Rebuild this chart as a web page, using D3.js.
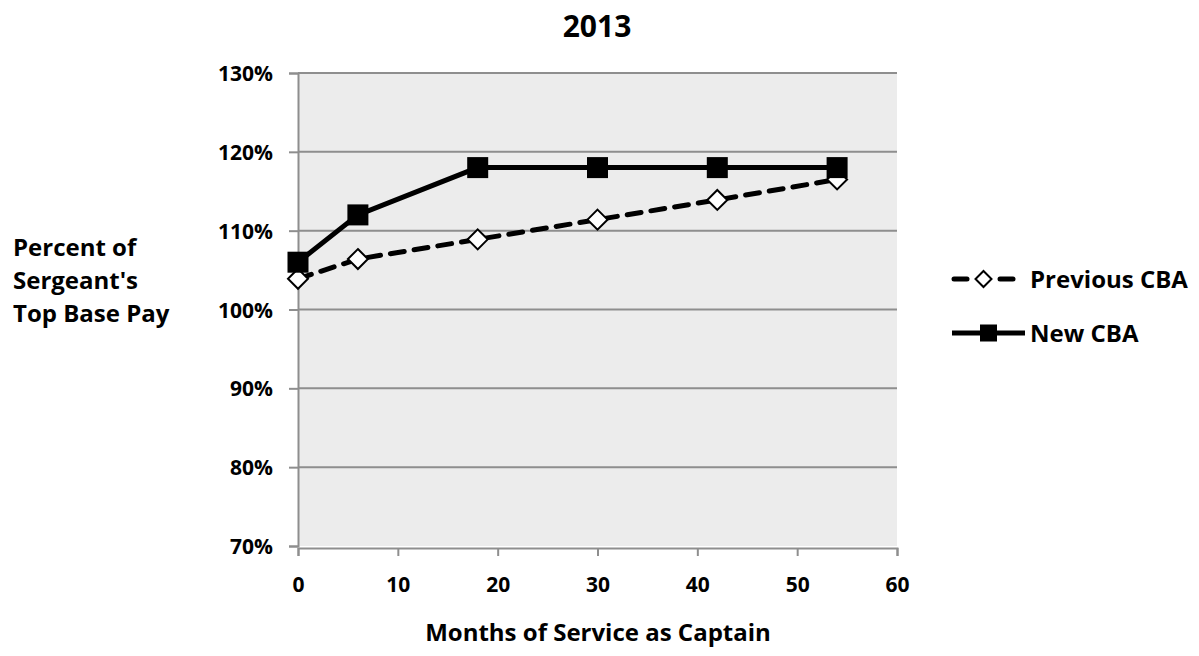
<!DOCTYPE html>
<html>
<head>
<meta charset="utf-8">
<script src="https://cdn.jsdelivr.net/npm/d3@7"></script>
<style>
  html, body { margin: 0; padding: 0; background: #fff; }
  svg text { font-family: "Open Sans", "Noto Sans", sans-serif; font-weight: bold; fill: #000; }
</style>
</head>
<body>
<svg id="chart" width="1199" height="656"></svg>
<script>
// Months of service at each pay step
const months = [0, 6, 18, 30, 42, 54];
// Captain pay as a percent of the sergeant's top base pay
const previousCBA = [103.9, 106.4, 108.9, 111.4, 113.9, 116.5];
const newCBA = [106, 112, 118, 118, 118, 118];
const xTicks = [0, 10, 20, 30, 40, 50, 60];
const yTicks = [70, 80, 90, 100, 110, 120, 130];
const seriesNames = ["Previous CBA", "New CBA"];

const svg = d3.select("#chart");
const plot = { left: 298, right: 897, top: 73, bottom: 546 };

const x = d3.scaleLinear().domain([0, 60]).range([plot.left, plot.right]);
const y = d3.scaleLinear().domain([70, 130]).range([plot.bottom, plot.top]);

// plot background
svg.append("rect")
  .attr("x", plot.left).attr("y", plot.top)
  .attr("width", plot.right - plot.left).attr("height", plot.bottom - plot.top)
  .attr("fill", "#ececec");

// horizontal gridlines
svg.append("g")
  .selectAll("line")
  .data(yTicks.filter(t => t > 70))
  .join("line")
  .attr("x1", plot.left).attr("x2", plot.right)
  .attr("y1", d => y(d)).attr("y2", d => y(d))
  .attr("stroke", "#8e8e8e").attr("stroke-width", 2);

// y axis
const yAxis = svg.append("g")
  .attr("transform", `translate(${plot.left},0)`)
  .call(d3.axisLeft(y).tickValues(yTicks).tickFormat(d => d + "%").tickSize(9).tickPadding(16));
yAxis.select(".domain").attr("stroke", "#8e8e8e").attr("stroke-width", 2);
yAxis.selectAll(".tick line").attr("stroke", "#8e8e8e").attr("stroke-width", 2);
yAxis.selectAll("text").style("font-size", "21px").attr("dy", "0.36em");

// x axis
const xAxis = svg.append("g")
  .attr("transform", `translate(0,${plot.bottom + 2})`)
  .call(d3.axisBottom(x).tickValues(xTicks).tickSize(8));
xAxis.select(".domain").attr("stroke", "#8e8e8e").attr("stroke-width", 2);
xAxis.selectAll(".tick line").attr("stroke", "#8e8e8e").attr("stroke-width", 2);
xAxis.selectAll("text").style("font-size", "21px").attr("y", 44).attr("dy", 0);

const line = d3.line().x(d => x(d[0])).y(d => y(d[1]));
const prevPts = months.map((m, i) => [m, previousCBA[i]]);
const newPts = months.map((m, i) => [m, newCBA[i]]);

const diamond = s => `M0,${-s}L${s},0L0,${s}L${-s},0Z`;

// Previous CBA: dashed line with hollow diamonds
svg.append("path").datum(prevPts)
  .attr("d", line).attr("fill", "none")
  .attr("stroke", "#000").attr("stroke-width", 5)
  .attr("stroke-dasharray", "14,10").attr("stroke-linecap", "round");
svg.append("g").selectAll("path")
  .data(prevPts).join("path")
  .attr("transform", d => `translate(${x(d[0])},${y(d[1])})`)
  .attr("d", diamond(10))
  .attr("fill", "#fff").attr("stroke", "#000").attr("stroke-width", 2);

// New CBA: solid line with filled squares
svg.append("path").datum(newPts)
  .attr("d", line).attr("fill", "none")
  .attr("stroke", "#000").attr("stroke-width", 5);
svg.append("g").selectAll("rect")
  .data(newPts).join("rect")
  .attr("x", d => x(d[0]) - 10.5).attr("y", d => y(d[1]) - 10.5)
  .attr("width", 21).attr("height", 21).attr("fill", "#000");

// title
svg.append("text").attr("x", 597).attr("y", 37)
  .attr("text-anchor", "middle").style("font-size", "30px").text("2013");

// x axis title
svg.append("text").attr("x", 598).attr("y", 641)
  .attr("text-anchor", "middle").style("font-size", "24px").text("Months of Service as Captain");

// y axis title
const yTitle = svg.append("text").style("font-size", "24px");
["Percent of", "Sergeant's", "Top Base Pay"].forEach((t, i) => {
  yTitle.append("tspan").attr("x", 13).attr("y", 256 + i * 33).text(t);
});

// legend
const legend = svg.append("g");
// Previous CBA entry: dash, diamond, dash
[[954, 967], [1000, 1013]].forEach(([a, b]) => {
  legend.append("line").attr("x1", a).attr("x2", b).attr("y1", 279).attr("y2", 279)
    .attr("stroke", "#000").attr("stroke-width", 5).attr("stroke-linecap", "round");
});
legend.append("path").attr("transform", "translate(983.5,279)").attr("d", diamond(8))
  .attr("fill", "#fff").attr("stroke", "#000").attr("stroke-width", 2);
legend.append("text").attr("x", 1030).attr("y", 279).attr("dy", "0.36em")
  .style("font-size", "24px").text(seriesNames[0]);
// New CBA entry
legend.append("line").attr("x1", 952).attr("x2", 1025).attr("y1", 333).attr("y2", 333)
  .attr("stroke", "#000").attr("stroke-width", 5);
legend.append("rect").attr("x", 980).attr("y", 324.5).attr("width", 17).attr("height", 17)
  .attr("fill", "#000");
legend.append("text").attr("x", 1030).attr("y", 333).attr("dy", "0.36em")
  .style("font-size", "24px").text(seriesNames[1]);
</script>
</body>
</html>
